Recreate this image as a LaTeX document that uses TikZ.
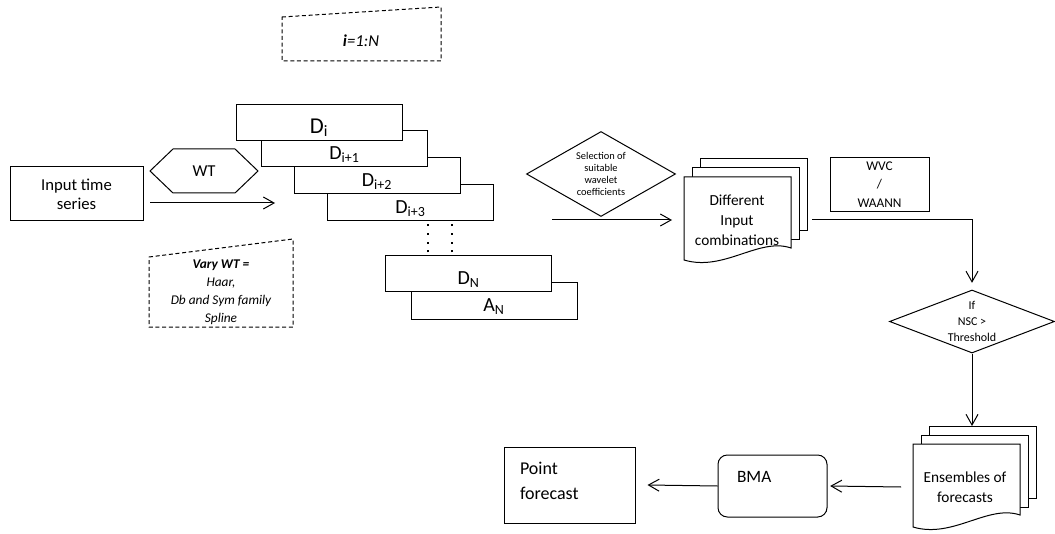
\documentclass[tikz,border=0pt]{standalone}
\usepackage{fontspec}
\setmainfont{Carlito}
\usetikzlibrary{shapes.geometric,arrows.meta}

% a pile of three pages, the front one with a wavy bottom
\tikzset{
  pics/docstack/.style={code={
    \draw[fill=white] (16,-18) rectangle ++(107,72);
    \draw[fill=white] (8,-9) rectangle ++(107,72);
    \draw[fill=white] (0,0) -- (107,0) -- (107,71) .. controls (75,60) and (40,95) .. (0,83) -- cycle;
    \coordinate (-top) at (62,-18);
    \coordinate (-west) at (-12,43);
    \coordinate (-east) at (128,43);
  }}
}

\begin{document}
\begin{tikzpicture}[x=0.75pt, y=-0.75pt, line width=0.75pt,
  box/.style={draw, align=center, font=\fontsize{12.5}{14.5}\selectfont},
  dbox/.style={draw, fill=white, minimum width=124.5pt, minimum height=27pt,
    text height=16pt, text depth=0pt, font=\fontsize{15}{18}\selectfont},
  decision/.style={draw, diamond, inner sep=0pt},
  dashedbox/.style={dash pattern=on 3pt off 2pt},
  arr/.style={-{Straight Barb[length=8pt,width=9pt]}},
  ellipsis/.style={line width=1.8pt, dash pattern=on 1.6pt off 5pt}]
  \useasboundingbox (0,0) rectangle (1055,534);

  % loop over the levels
  \draw[dashedbox] (282,17) -- (441,7) -- (441,61) -- (282,61) -- cycle;
  \node[font=\itshape\fontsize{12.5}{14}\selectfont] (loop) at (361,41) {\textbf{i}=1:N};

  % input and wavelet transform
  \node[box, minimum width=99.75pt, minimum height=40.5pt] (input) at (76.5,194) {Input time\\series};
  \draw (150,171) -- (173,149) -- (235,149) -- (258,171) -- (235,193) -- (173,193) -- cycle;
  \node[font=\fontsize{12.5}{14.5}\selectfont] (wt) at (204,171) {WT};
  \coordinate (wt-start) at (150,203);
  \coordinate (wt-end) at (275,203);
  \draw[arr] (wt-start) -- (wt-end);

  \draw[dashedbox] (149,257) -- (293,239) -- (293,327) -- (149,327) -- cycle;
  \node[align=center, font=\itshape\fontsize{10}{13.5}\selectfont] (vary) at (221,292)
    {\textbf{Vary WT =}\\Haar,\\Db and Sym family\\Spline};

  % detail and approximation coefficients
  \node[dbox] (d3) at (410.5,203) {D\textsubscript{i+3}};
  \node[dbox] (d2) at (377,176) {D\textsubscript{i+2}};
  \node[dbox] (d1) at (344.5,149) {D\textsubscript{i+1}};
  \node[dbox, font=\fontsize{17}{20}\selectfont] (d0) at (319,122.5) {D\textsubscript{i}};
  \node[dbox] (aN) at (494,301) {A\textsubscript{N}};
  \node[dbox] (dN) at (468.5,274) {D\textsubscript{N}};
  \draw[ellipsis] ([xshift=32.25pt,yshift=2.25pt]dN.north west) -- ++(0,-29);
  \draw[ellipsis] ([xshift=50.25pt,yshift=2.25pt]dN.north west) -- ++(0,-29);

  % selection of coefficients
  \node[decision, minimum width=111.75pt, minimum height=63.75pt] (sel) at (601,174) {};
  \node[align=center, font=\fontsize{7.8}{9}\selectfont] (sel-text) at (sel)
    {Selection of\\suitable\\wavelet\\coefficients};
  \coordinate (sel-start) at (552,220);

  \pic (combdoc) at (684,177) {docstack};
  \node[align=center, font=\fontsize{11.5}{15}\selectfont] (comb) at (737,220) {Different\\Input\\combinations};
  \draw[arr] (sel-start) -- (combdoc-west);

  \node[box, minimum width=74.25pt, minimum height=39.75pt, font=\fontsize{10}{13.9}\selectfont] (model) at (879.5,184.5) {WVC\\/\\WAANN};

  % threshold test
  \node[decision, minimum width=123.75pt, minimum height=47.25pt] (nsc) at (972,321.5) {};
  \node[align=center, font=\fontsize{9}{12}\selectfont] (nsc-text) at (nsc) {If\\NSC >\\Threshold};
  \draw[arr] (combdoc-east) -| ([yshift=5pt]nsc.north);

  \pic (ensdoc) at (913,444) {docstack};
  \node[align=center, font=\fontsize{11.5}{15}\selectfont] (ens) at (965,487) {Ensembles of\\forecasts};
  \draw[arr] (nsc.south) -- (nsc.south |- ensdoc-top);

  % averaging and final forecast
  \node[draw, rounded corners=7pt, minimum width=81.75pt, minimum height=46.5pt,
    text width=53.25pt, align=left, text height=9pt, text depth=14pt,
    font=\fontsize{13}{16}\selectfont] (bma) at (772.5,486) {BMA};
  \node[draw, minimum width=98.25pt, minimum height=57pt, text width=74.25pt,
    align=left, text depth=25pt, font=\fontsize{13.5}{18.75}\selectfont] (pf) at (569.5,485) {Point\\forecast};
  \draw[arr] (ensdoc-west) -- ([xshift=2pt]bma.east);
  \draw[arr] (bma.west) -- ([xshift=9pt]pf.east);
\end{tikzpicture}
\end{document}
